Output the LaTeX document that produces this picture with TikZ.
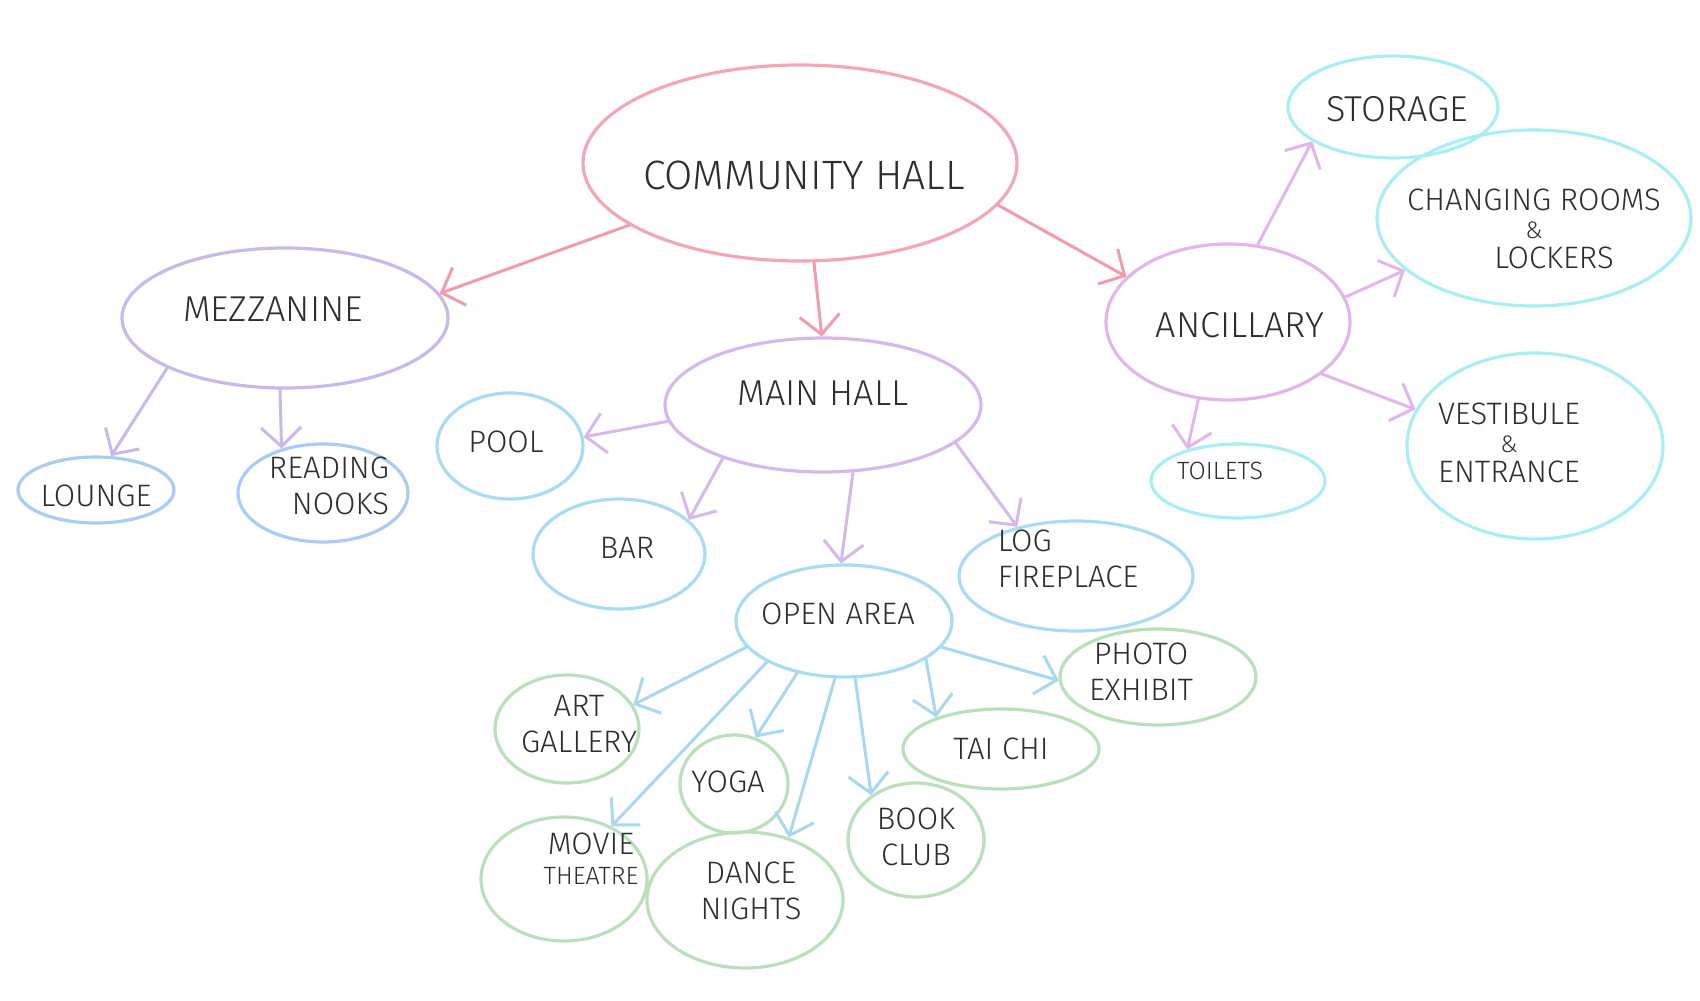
\documentclass[tikz,border=0pt]{standalone}
\usepackage{fontspec}
\setmainfont{Fira Sans Light}
\usetikzlibrary{shapes.geometric,arrows.meta}
\definecolor{chc}{HTML}{F2A8B4}
\definecolor{chline}{HTML}{F29BAA}
\definecolor{mezc}{HTML}{C8B8EC}
\definecolor{mainc}{HTML}{D6B8EC}
\definecolor{ancc}{HTML}{E2B6EA}
\definecolor{bluec}{HTML}{A8CCF4}
\definecolor{skyc}{HTML}{A8DCF2}
\definecolor{cyanc}{HTML}{A8EEF2}
\definecolor{greenc}{HTML}{BADFBA}
\definecolor{openline}{HTML}{A8D8F0}
\definecolor{txt}{HTML}{2E2E2E}
% shift the text of a node by (dx, up dy) without changing its box
\newcommand\sh[3]{\kern#1\raisebox{#2}[\height][\depth]{#3}\kern-#1}
\newcommand\tc[1]{\begin{tabular}{@{}c@{}}#1\end{tabular}}
\newcommand\tl[1]{\begin{tabular}{@{}l@{}}#1\end{tabular}}
\newcommand\tr[1]{\begin{tabular}{@{}r@{}}#1\end{tabular}}
\newcommand\amp{{\fontsize{24}{24}\selectfont\&}}
\begin{document}
\begin{tikzpicture}[x=1pt,y=-1pt,
  bub/.style={ellipse, draw, line width=3.2pt, inner sep=-400pt, text=txt},
  fbig/.style={font=\fontsize{41}{46}\selectfont},
  fone/.style={font=\fontsize{36}{42}\selectfont},
  fleaf/.style={font=\fontsize{31}{36}\selectfont},
  fsmall/.style={font=\fontsize{25}{30}\selectfont},
  conn/.style={line width=3pt, line cap=round, -{Straight Barb[length=19pt,width=40pt]}}
]
\fill[white] (0,0) rectangle (1700,1001);
\useasboundingbox (0,0) rectangle (1700,1001);

% top
\node[bub, draw=chc, fbig, minimum width=434pt, minimum height=196pt] (ch) at (800,163) {\sh{4pt}{-12pt}{COMMUNITY HALL}};

% level 1
\node[bub, draw=mezc, fone, minimum width=326pt, minimum height=140pt] (mezz) at (285,318) {\sh{-12pt}{9pt}{MEZZANINE}};
\node[bub, draw=mainc, fone, minimum width=316pt, minimum height=134pt] (main) at (823,405) {\sh{0pt}{12pt}{MAIN HALL}};
\node[bub, draw=ancc, fone, minimum width=244pt, minimum height=156pt] (anc) at (1228,322) {\sh{12pt}{-3pt}{ANCILLARY}};

% ancillary children
\node[bub, draw=cyanc, fone, minimum width=210pt, minimum height=102pt] (storage) at (1393,107) {\sh{4pt}{-2pt}{STORAGE}};
\node[bub, draw=cyanc, fleaf, minimum width=314pt, minimum height=176pt] (chg) at (1534,218) {\sh{0pt}{-14pt}{\tc{CHANGING ROOMS\\[-8pt]\amp\\[-6pt]\hspace*{40pt}LOCKERS}}};
\node[bub, draw=cyanc, fleaf, minimum width=256pt, minimum height=186pt] (vest) at (1535,446) {\sh{-26pt}{0pt}{\tc{VESTIBULE\\[-8pt]\amp\\[-6pt]ENTRANCE}}};
\node[bub, draw=cyanc, fsmall, minimum width=174pt, minimum height=74pt] (toilets) at (1238,481) {\sh{-18pt}{10pt}{TOILETS}};

% mezzanine children
\node[bub, draw=bluec, fleaf, minimum width=156pt, minimum height=66pt] (lounge) at (96,490) {\sh{0pt}{-6pt}{LOUNGE}};
\node[bub, draw=bluec, fleaf, minimum width=170pt, minimum height=98pt] (reading) at (323,493) {\sh{6pt}{4pt}{\tr{READING\\NOOKS}}};

% main hall children
\node[bub, draw=skyc, fleaf, minimum width=146pt, minimum height=106pt] (pool) at (510,446) {\sh{-4pt}{4pt}{POOL}};
\node[bub, draw=skyc, fleaf, minimum width=172pt, minimum height=110pt] (bar) at (619,554) {\sh{8pt}{6pt}{BAR}};
\node[bub, draw=skyc, fleaf, minimum width=234pt, minimum height=110pt] (log) at (1076,576) {\sh{-8pt}{14pt}{\tl{LOG\\FIREPLACE}}};
\node[bub, draw=skyc, fleaf, minimum width=216pt, minimum height=112pt] (open) at (844,621) {\sh{-6pt}{7pt}{OPEN AREA}};

% open area children
\node[bub, draw=greenc, fleaf, minimum width=196pt, minimum height=96pt] (photo) at (1158,677) {\sh{-17pt}{2pt}{\tc{PHOTO\\EXHIBIT}}};
\node[bub, draw=greenc, fleaf, minimum width=196pt, minimum height=80pt] (tai) at (1001,749) {TAI CHI};
\node[bub, draw=greenc, fleaf, minimum width=144pt, minimum height=108pt] (art) at (567,729) {\sh{12pt}{2pt}{\tc{ART\\GALLERY}}};
\node[bub, draw=greenc, fleaf, minimum width=108pt, minimum height=98pt] (yoga) at (734,784) {\sh{-6pt}{2pt}{YOGA}};
\node[bub, draw=greenc, fleaf, minimum width=136pt, minimum height=114pt] (book) at (916,840) {\tc{BOOK\\CLUB}};
\node[bub, draw=greenc, fleaf, minimum width=166pt, minimum height=124pt] (movie) at (564,879) {\sh{27pt}{17pt}{\tc{MOVIE\\[-6pt]{\fontsize{25}{30}\selectfont THEATRE}}}};
\node[bub, draw=greenc, fleaf, minimum width=196pt, minimum height=136pt] (dance) at (745,900) {\sh{6pt}{6pt}{\tc{DANCE\\NIGHTS}}};

% connectors from community hall
\draw[conn, draw=chline] (ch.200) -- (mezz.9);
\draw[conn, draw=chline] (ch.-82) -- (main.91);
\draw[conn, draw=chline] (ch.-12) -- (anc.156);

% mezzanine
\draw[conn, draw=mezc] (mezz.203) -- (lounge.66);
\draw[conn, draw=mezc] (mezz.266) -- (reading.133);

% main hall
\draw[conn, draw=mainc] (main.186) -- (pool.7);
\draw[conn, draw=mainc] (main.208) -- (bar.26);
\draw[conn, draw=mainc] (main.-66) -- (open.93);
\draw[conn, draw=mainc] (main.-16) -- (log.140);

% ancillary
\draw[conn, draw=ancc] (anc.69) -- (storage.203);
\draw[conn, draw=ancc] (anc.12) -- (chg.202);
\draw[conn, draw=ancc] (anc.-29) -- (vest.163);
\draw[conn, draw=ancc] (anc.249) -- (toilets.148);

% open area
\draw[conn, draw=openline] (open.195) -- (art.20);
\draw[conn, draw=openline] (open.208) -- (movie.48);
\draw[conn, draw=openline] (open.228) -- (yoga.65);
\draw[conn, draw=openline] (open.261) -- (dance.55);
\draw[conn, draw=openline] (open.281) -- (book.135);
\draw[conn, draw=openline] (open.-25) -- (tai.154);
\draw[conn, draw=openline] (open.-15) -- (photo.182);
\end{tikzpicture}
\end{document}
